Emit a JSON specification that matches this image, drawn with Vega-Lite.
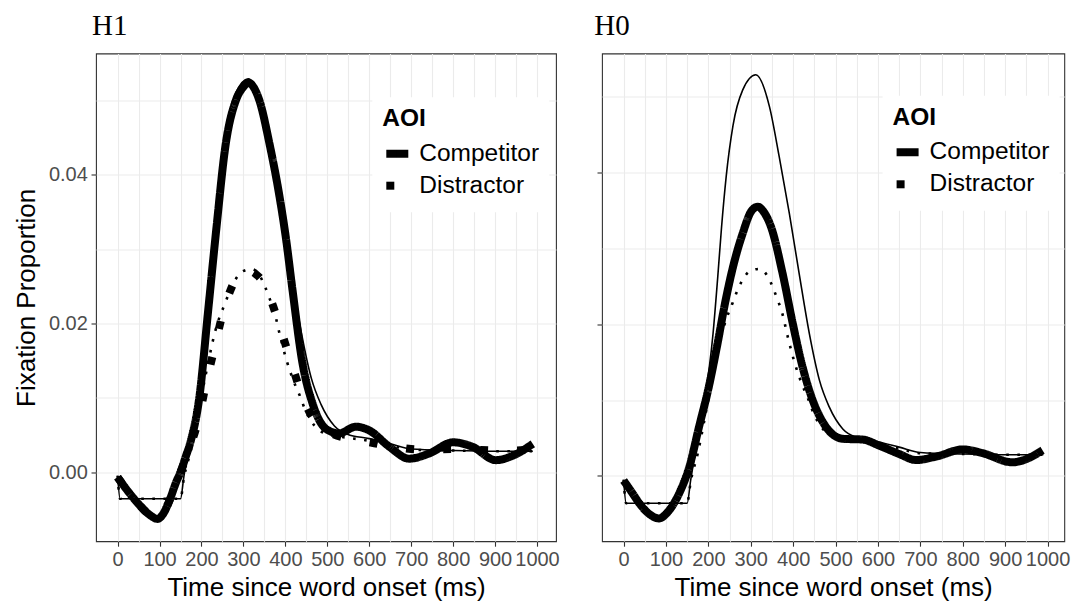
{
  "$schema": "https://vega.github.io/schema/vega-lite/v6.json",
  "padding": {"left": 12, "top": 11.5, "right": 2, "bottom": 0},
  "background": "white",
  "spacing": 33,
  "resolve": {"scale": {"strokeDash": "independent"}, "legend": {"strokeDash": "independent"}},
  "data": {"values": [
    {"p":"H1","k":"est","AOI":"Competitor","t":0,"v":-0.0007},
    {"p":"H1","k":"est","AOI":"Competitor","t":25,"v":-0.0026},
    {"p":"H1","k":"est","AOI":"Competitor","t":50,"v":-0.0043},
    {"p":"H1","k":"est","AOI":"Competitor","t":75,"v":-0.0057},
    {"p":"H1","k":"est","AOI":"Competitor","t":95,"v":-0.0063},
    {"p":"H1","k":"est","AOI":"Competitor","t":110,"v":-0.0055},
    {"p":"H1","k":"est","AOI":"Competitor","t":125,"v":-0.0036},
    {"p":"H1","k":"est","AOI":"Competitor","t":140,"v":-0.0013},
    {"p":"H1","k":"est","AOI":"Competitor","t":150,"v":0.0000},
    {"p":"H1","k":"est","AOI":"Competitor","t":162,"v":0.0020},
    {"p":"H1","k":"est","AOI":"Competitor","t":175,"v":0.0043},
    {"p":"H1","k":"est","AOI":"Competitor","t":195,"v":0.0101},
    {"p":"H1","k":"est","AOI":"Competitor","t":215,"v":0.0212},
    {"p":"H1","k":"est","AOI":"Competitor","t":235,"v":0.0325},
    {"p":"H1","k":"est","AOI":"Competitor","t":258,"v":0.0442},
    {"p":"H1","k":"est","AOI":"Competitor","t":282,"v":0.0500},
    {"p":"H1","k":"est","AOI":"Competitor","t":300,"v":0.0518},
    {"p":"H1","k":"est","AOI":"Competitor","t":312,"v":0.0524},
    {"p":"H1","k":"est","AOI":"Competitor","t":325,"v":0.0517},
    {"p":"H1","k":"est","AOI":"Competitor","t":338,"v":0.0500},
    {"p":"H1","k":"est","AOI":"Competitor","t":362,"v":0.0442},
    {"p":"H1","k":"est","AOI":"Competitor","t":385,"v":0.0374},
    {"p":"H1","k":"est","AOI":"Competitor","t":401,"v":0.0316},
    {"p":"H1","k":"est","AOI":"Competitor","t":417,"v":0.0245},
    {"p":"H1","k":"est","AOI":"Competitor","t":441,"v":0.0146},
    {"p":"H1","k":"est","AOI":"Competitor","t":465,"v":0.0092},
    {"p":"H1","k":"est","AOI":"Competitor","t":497,"v":0.0058},
    {"p":"H1","k":"est","AOI":"Competitor","t":528,"v":0.0052},
    {"p":"H1","k":"est","AOI":"Competitor","t":568,"v":0.0061},
    {"p":"H1","k":"est","AOI":"Competitor","t":600,"v":0.0056},
    {"p":"H1","k":"est","AOI":"Competitor","t":648,"v":0.0034},
    {"p":"H1","k":"est","AOI":"Competitor","t":695,"v":0.0018},
    {"p":"H1","k":"est","AOI":"Competitor","t":743,"v":0.0025},
    {"p":"H1","k":"est","AOI":"Competitor","t":800,"v":0.0040},
    {"p":"H1","k":"est","AOI":"Competitor","t":846,"v":0.0034},
    {"p":"H1","k":"est","AOI":"Competitor","t":902,"v":0.0016},
    {"p":"H1","k":"est","AOI":"Competitor","t":942,"v":0.0022},
    {"p":"H1","k":"est","AOI":"Competitor","t":990,"v":0.0038},
    {"p":"H1","k":"est","AOI":"Distractor","t":0,"v":-0.0007},
    {"p":"H1","k":"est","AOI":"Distractor","t":25,"v":-0.0026},
    {"p":"H1","k":"est","AOI":"Distractor","t":50,"v":-0.0043},
    {"p":"H1","k":"est","AOI":"Distractor","t":75,"v":-0.0057},
    {"p":"H1","k":"est","AOI":"Distractor","t":95,"v":-0.0062},
    {"p":"H1","k":"est","AOI":"Distractor","t":110,"v":-0.0054},
    {"p":"H1","k":"est","AOI":"Distractor","t":125,"v":-0.0037},
    {"p":"H1","k":"est","AOI":"Distractor","t":140,"v":-0.0014},
    {"p":"H1","k":"est","AOI":"Distractor","t":150,"v":0.0000},
    {"p":"H1","k":"est","AOI":"Distractor","t":170,"v":0.0030},
    {"p":"H1","k":"est","AOI":"Distractor","t":191,"v":0.0067},
    {"p":"H1","k":"est","AOI":"Distractor","t":211,"v":0.0119},
    {"p":"H1","k":"est","AOI":"Distractor","t":231,"v":0.0167},
    {"p":"H1","k":"est","AOI":"Distractor","t":252,"v":0.0216},
    {"p":"H1","k":"est","AOI":"Distractor","t":268,"v":0.0243},
    {"p":"H1","k":"est","AOI":"Distractor","t":284,"v":0.0262},
    {"p":"H1","k":"est","AOI":"Distractor","t":300,"v":0.0269},
    {"p":"H1","k":"est","AOI":"Distractor","t":315,"v":0.0270},
    {"p":"H1","k":"est","AOI":"Distractor","t":330,"v":0.0266},
    {"p":"H1","k":"est","AOI":"Distractor","t":346,"v":0.0256},
    {"p":"H1","k":"est","AOI":"Distractor","t":365,"v":0.0232},
    {"p":"H1","k":"est","AOI":"Distractor","t":381,"v":0.0206},
    {"p":"H1","k":"est","AOI":"Distractor","t":409,"v":0.0156},
    {"p":"H1","k":"est","AOI":"Distractor","t":437,"v":0.0108},
    {"p":"H1","k":"est","AOI":"Distractor","t":460,"v":0.0078},
    {"p":"H1","k":"est","AOI":"Distractor","t":481,"v":0.0063},
    {"p":"H1","k":"est","AOI":"Distractor","t":510,"v":0.0052},
    {"p":"H1","k":"est","AOI":"Distractor","t":552,"v":0.0045},
    {"p":"H1","k":"est","AOI":"Distractor","t":600,"v":0.0040},
    {"p":"H1","k":"est","AOI":"Distractor","t":650,"v":0.0035},
    {"p":"H1","k":"est","AOI":"Distractor","t":700,"v":0.0031},
    {"p":"H1","k":"est","AOI":"Distractor","t":750,"v":0.0030},
    {"p":"H1","k":"est","AOI":"Distractor","t":800,"v":0.0031},
    {"p":"H1","k":"est","AOI":"Distractor","t":850,"v":0.0030},
    {"p":"H1","k":"est","AOI":"Distractor","t":900,"v":0.0029},
    {"p":"H1","k":"est","AOI":"Distractor","t":950,"v":0.0029},
    {"p":"H1","k":"est","AOI":"Distractor","t":990,"v":0.0031},
    {"p":"H0","k":"est","AOI":"Competitor","t":0,"v":-0.0006},
    {"p":"H0","k":"est","AOI":"Competitor","t":20,"v":-0.0022},
    {"p":"H0","k":"est","AOI":"Competitor","t":37,"v":-0.0036},
    {"p":"H0","k":"est","AOI":"Competitor","t":60,"v":-0.0050},
    {"p":"H0","k":"est","AOI":"Competitor","t":84,"v":-0.0056},
    {"p":"H0","k":"est","AOI":"Competitor","t":100,"v":-0.0050},
    {"p":"H0","k":"est","AOI":"Competitor","t":131,"v":-0.0023},
    {"p":"H0","k":"est","AOI":"Competitor","t":155,"v":0.0012},
    {"p":"H0","k":"est","AOI":"Competitor","t":178,"v":0.0065},
    {"p":"H0","k":"est","AOI":"Competitor","t":200,"v":0.0115},
    {"p":"H0","k":"est","AOI":"Competitor","t":220,"v":0.0170},
    {"p":"H0","k":"est","AOI":"Competitor","t":240,"v":0.0230},
    {"p":"H0","k":"est","AOI":"Competitor","t":260,"v":0.0280},
    {"p":"H0","k":"est","AOI":"Competitor","t":281,"v":0.0320},
    {"p":"H0","k":"est","AOI":"Competitor","t":300,"v":0.0348},
    {"p":"H0","k":"est","AOI":"Competitor","t":316,"v":0.0355},
    {"p":"H0","k":"est","AOI":"Competitor","t":332,"v":0.0347},
    {"p":"H0","k":"est","AOI":"Competitor","t":348,"v":0.0328},
    {"p":"H0","k":"est","AOI":"Competitor","t":375,"v":0.0267},
    {"p":"H0","k":"est","AOI":"Competitor","t":399,"v":0.0201},
    {"p":"H0","k":"est","AOI":"Competitor","t":422,"v":0.0144},
    {"p":"H0","k":"est","AOI":"Competitor","t":446,"v":0.0100},
    {"p":"H0","k":"est","AOI":"Competitor","t":477,"v":0.0065},
    {"p":"H0","k":"est","AOI":"Competitor","t":517,"v":0.0049},
    {"p":"H0","k":"est","AOI":"Competitor","t":564,"v":0.0048},
    {"p":"H0","k":"est","AOI":"Competitor","t":603,"v":0.0040},
    {"p":"H0","k":"est","AOI":"Competitor","t":650,"v":0.0029},
    {"p":"H0","k":"est","AOI":"Competitor","t":690,"v":0.0021},
    {"p":"H0","k":"est","AOI":"Competitor","t":740,"v":0.0026},
    {"p":"H0","k":"est","AOI":"Competitor","t":800,"v":0.0035},
    {"p":"H0","k":"est","AOI":"Competitor","t":847,"v":0.0030},
    {"p":"H0","k":"est","AOI":"Competitor","t":917,"v":0.0018},
    {"p":"H0","k":"est","AOI":"Competitor","t":957,"v":0.0024},
    {"p":"H0","k":"est","AOI":"Competitor","t":988,"v":0.0034},
    {"k":"true","AOI":"Competitor","t":0,"v":-0.0005},
    {"k":"true","AOI":"Competitor","t":6,"v":-0.0036},
    {"k":"true","AOI":"Competitor","t":150,"v":-0.0036},
    {"k":"true","AOI":"Competitor","t":158,"v":-0.0006},
    {"k":"true","AOI":"Competitor","t":170,"v":0.0035},
    {"k":"true","AOI":"Competitor","t":190,"v":0.0095},
    {"k":"true","AOI":"Competitor","t":211,"v":0.0188},
    {"k":"true","AOI":"Competitor","t":222,"v":0.0262},
    {"k":"true","AOI":"Competitor","t":231,"v":0.0328},
    {"k":"true","AOI":"Competitor","t":242,"v":0.0395},
    {"k":"true","AOI":"Competitor","t":258,"v":0.0462},
    {"k":"true","AOI":"Competitor","t":281,"v":0.0509},
    {"k":"true","AOI":"Competitor","t":312,"v":0.0529},
    {"k":"true","AOI":"Competitor","t":344,"v":0.0487},
    {"k":"true","AOI":"Competitor","t":367,"v":0.0421},
    {"k":"true","AOI":"Competitor","t":391,"v":0.0346},
    {"k":"true","AOI":"Competitor","t":414,"v":0.0267},
    {"k":"true","AOI":"Competitor","t":438,"v":0.0188},
    {"k":"true","AOI":"Competitor","t":462,"v":0.0126},
    {"k":"true","AOI":"Competitor","t":485,"v":0.0091},
    {"k":"true","AOI":"Competitor","t":517,"v":0.0062},
    {"k":"true","AOI":"Competitor","t":548,"v":0.0051},
    {"k":"true","AOI":"Competitor","t":600,"v":0.0045},
    {"k":"true","AOI":"Competitor","t":650,"v":0.0038},
    {"k":"true","AOI":"Competitor","t":700,"v":0.0031},
    {"k":"true","AOI":"Competitor","t":800,"v":0.0029},
    {"k":"true","AOI":"Competitor","t":900,"v":0.0028},
    {"k":"true","AOI":"Competitor","t":990,"v":0.0028},
    {"k":"true","AOI":"Distractor","t":0,"v":-0.0005},
    {"k":"true","AOI":"Distractor","t":6,"v":-0.0036},
    {"k":"true","AOI":"Distractor","t":150,"v":-0.0036},
    {"k":"true","AOI":"Distractor","t":158,"v":-0.0008},
    {"k":"true","AOI":"Distractor","t":175,"v":0.0030},
    {"k":"true","AOI":"Distractor","t":190,"v":0.0072},
    {"k":"true","AOI":"Distractor","t":208,"v":0.0125},
    {"k":"true","AOI":"Distractor","t":217,"v":0.0150},
    {"k":"true","AOI":"Distractor","t":233,"v":0.0190},
    {"k":"true","AOI":"Distractor","t":241,"v":0.0205},
    {"k":"true","AOI":"Distractor","t":257,"v":0.0228},
    {"k":"true","AOI":"Distractor","t":265,"v":0.0240},
    {"k":"true","AOI":"Distractor","t":280,"v":0.0258},
    {"k":"true","AOI":"Distractor","t":298,"v":0.0270},
    {"k":"true","AOI":"Distractor","t":320,"v":0.0273},
    {"k":"true","AOI":"Distractor","t":340,"v":0.0263},
    {"k":"true","AOI":"Distractor","t":351,"v":0.0250},
    {"k":"true","AOI":"Distractor","t":362,"v":0.0234},
    {"k":"true","AOI":"Distractor","t":374,"v":0.0215},
    {"k":"true","AOI":"Distractor","t":387,"v":0.0184},
    {"k":"true","AOI":"Distractor","t":403,"v":0.0150},
    {"k":"true","AOI":"Distractor","t":420,"v":0.0122},
    {"k":"true","AOI":"Distractor","t":435,"v":0.0102},
    {"k":"true","AOI":"Distractor","t":447,"v":0.0084},
    {"k":"true","AOI":"Distractor","t":470,"v":0.0062},
    {"k":"true","AOI":"Distractor","t":500,"v":0.0051},
    {"k":"true","AOI":"Distractor","t":550,"v":0.0046},
    {"k":"true","AOI":"Distractor","t":600,"v":0.0042},
    {"k":"true","AOI":"Distractor","t":650,"v":0.0036},
    {"k":"true","AOI":"Distractor","t":700,"v":0.0030},
    {"k":"true","AOI":"Distractor","t":800,"v":0.0029},
    {"k":"true","AOI":"Distractor","t":900,"v":0.0028},
    {"k":"true","AOI":"Distractor","t":990,"v":0.0028}
  ]},
  "hconcat": [
    {
      "width": 460,
      "height": 487.7,
      "title": {"text": "H1", "anchor": "start", "frame": "group", "baseline": "alphabetic", "offset": -10.9, "dx": -4, "font": "Liberation Serif", "fontSize": 29, "fontWeight": "normal", "color": "black"},
      "encoding": {
        "x": {"field": "t", "type": "quantitative", "scale": {"domain": [-51.5, 1045.3], "nice": false, "zero": false},
          "axis": {"title": "Time since word onset (ms)", "format": "d", "values": [0,50,100,150,200,250,300,350,400,450,500,550,600,650,700,750,800,850,900,950,1000],
            "labelExpr": "datum.value % 100 === 0 ? datum.label : ''",
            "tickOpacity": {"condition": {"test": "datum.value % 100 === 0", "value": 1}, "value": 0}}},
        "y": {"field": "v", "type": "quantitative", "scale": {"domain": [-0.0093, 0.0563], "nice": false, "zero": false},
          "axis": {"title": "Fixation Proportion", "values": [0, 0.01, 0.02, 0.03, 0.04, 0.05], "format": ".2f",
            "labelExpr": "round(datum.value*100) % 2 === 0 ? datum.label : ''",
            "tickOpacity": {"condition": {"test": "round(datum.value*100) % 2 === 0", "value": 1}, "value": 0}}}
      },
      "layer": [
        {
          "transform": [{"filter": "datum.p === 'H1' && datum.k === 'est'"}],
          "mark": {"type": "line", "interpolate": "monotone", "strokeWidth": 8, "color": "black", "strokeCap": "butt", "strokeJoin": "round", "clip": true},
          "encoding": {
            "strokeDash": {"field": "AOI", "type": "nominal",
              "scale": {"domain": ["Competitor", "Distractor"], "range": [[1, 0], [8, 29]]},
              "legend": {"orient": "none", "legendX": 276.3, "legendY": 43.7, "title": "AOI"}}
          }
        },
        {
          "transform": [{"filter": "datum.k === 'true' && datum.AOI === 'Competitor'"}],
          "mark": {"type": "line", "interpolate": "monotone", "strokeWidth": 1.6, "color": "black", "clip": true},
          "encoding": {}
        },
        {
          "transform": [{"filter": "datum.k === 'true' && datum.AOI === 'Distractor'"}],
          "mark": {"type": "line", "interpolate": "monotone", "strokeWidth": 2.6, "strokeDash": [2.6, 8.5], "strokeCap": "butt", "color": "black", "clip": true},
          "encoding": {}
        }
      ]
    },
    {
      "width": 462.3,
      "height": 487.7,
      "title": {"text": "H0", "anchor": "start", "frame": "group", "baseline": "alphabetic", "offset": -10.9, "dx": -7.7, "font": "Liberation Serif", "fontSize": 29, "fontWeight": "normal", "color": "black"},
      "encoding": {
        "x": {"field": "t", "type": "quantitative", "scale": {"domain": [-51, 1039.5], "nice": false, "zero": false},
          "axis": {"title": "Time since word onset (ms)", "format": "d", "values": [0,50,100,150,200,250,300,350,400,450,500,550,600,650,700,750,800,850,900,950,1000],
            "labelExpr": "datum.value % 100 === 0 ? datum.label : ''",
            "tickOpacity": {"condition": {"test": "datum.value % 100 === 0", "value": 1}, "value": 0}}},
        "y": {"field": "v", "type": "quantitative", "scale": {"domain": [-0.0086, 0.0557], "nice": false, "zero": false},
          "axis": {"title": null, "labels": false, "values": [0, 0.01, 0.02, 0.03, 0.04, 0.05],
            "tickOpacity": {"condition": {"test": "round(datum.value*100) % 2 === 0", "value": 1}, "value": 0}}}
      },
      "layer": [
        {
          "transform": [{"filter": "datum.p === 'H0' && datum.k === 'est'"}],
          "mark": {"type": "line", "interpolate": "monotone", "strokeWidth": 8, "color": "black", "strokeCap": "butt", "strokeJoin": "round", "clip": true},
          "encoding": {
            "strokeDash": {"field": "AOI", "type": "nominal",
              "scale": {"domain": ["Competitor", "Distractor"], "range": [[1, 0], [8, 29]]},
              "legend": {"orient": "none", "legendX": 280.6, "legendY": 42.3, "title": "AOI"}}
          }
        },
        {
          "transform": [{"filter": "datum.k === 'true' && datum.AOI === 'Competitor'"}],
          "mark": {"type": "line", "interpolate": "monotone", "strokeWidth": 1.6, "color": "black", "clip": true},
          "encoding": {}
        },
        {
          "transform": [{"filter": "datum.k === 'true' && datum.AOI === 'Distractor'"}],
          "mark": {"type": "line", "interpolate": "monotone", "strokeWidth": 2.6, "strokeDash": [2.6, 8.5], "strokeCap": "butt", "color": "black", "clip": true},
          "encoding": {}
        }
      ]
    }
  ],
  "config": {
    "view": {"stroke": "#333333", "strokeWidth": 1.1},
    "axis": {"grid": true, "gridColor": "#EBEBEB", "gridWidth": 1.1, "domain": false,
      "tickColor": "#333333", "tickWidth": 1.1, "tickSize": 5,
      "labelFont": "Liberation Sans", "labelFontSize": 20, "labelColor": "#4D4D4D",
      "titleFont": "Liberation Sans", "titleFontSize": 26, "titleFontWeight": "normal", "titleColor": "black",
      "labelOverlap": false, "labelFlush": false},
    "axisX": {"labelPadding": 3.5, "titlePadding": 5},
    "axisY": {"labelPadding": 3.7, "titlePadding": 9},
    "legend": {"titleFont": "Liberation Sans", "titleFontSize": 24.5, "titleFontWeight": "bold", "titleColor": "black",
      "labelFont": "Liberation Sans", "labelFontSize": 24.5, "labelColor": "black",
      "fillColor": "white", "padding": 10, "symbolSize": 484, "symbolStrokeWidth": 8, "symbolStrokeColor": "black", "labelOffset": 7, "rowPadding": 0, "titlePadding": 7, "symbolOffset": 0}
  }
}
